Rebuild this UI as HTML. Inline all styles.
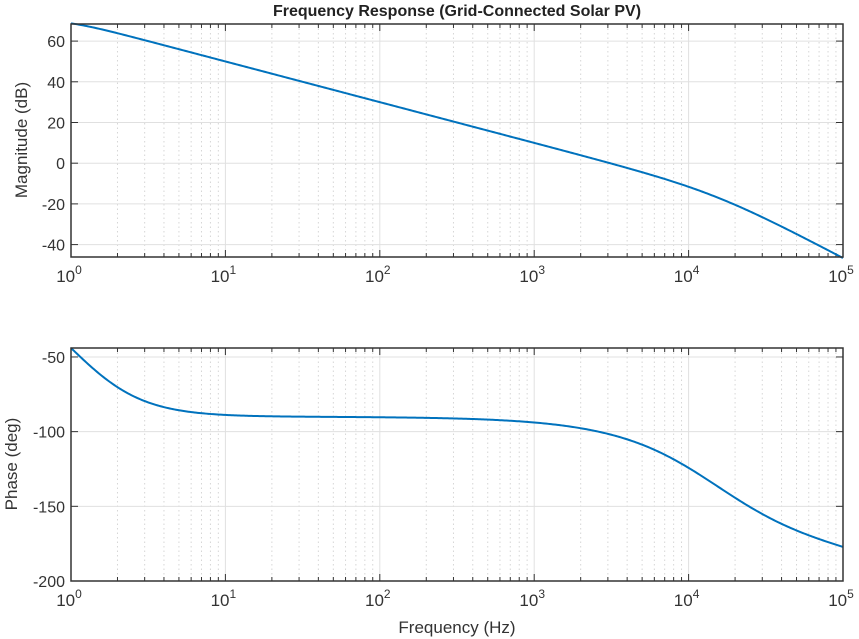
<!DOCTYPE html>
<html><head><meta charset="utf-8"><style>
html,body{margin:0;padding:0;background:#fff;}
svg{display:block;font-family:"Liberation Sans",Arial,sans-serif;}
</style></head><body>
<svg id="s" width="859" height="639" viewBox="0 0 859 639" xmlns="http://www.w3.org/2000/svg">
<rect width="859" height="639" fill="#fff"/>
<text x="457" y="16" text-anchor="middle" font-size="16" font-weight="bold" fill="#222">Frequency Response (Grid-Connected Solar PV)</text>
<g id="g"></g>
<text x="457" y="633" text-anchor="middle" font-size="17" fill="#333">Frequency (Hz)</text>
<text transform="translate(27,140) rotate(-90)" text-anchor="middle" font-size="17" fill="#333">Magnitude (dB)</text>
<text transform="translate(17,464) rotate(-90)" text-anchor="middle" font-size="17" fill="#333">Phase (deg)</text>
</svg>
<script>
var NS="http://www.w3.org/2000/svg",g=document.getElementById('g');
function el(t,a,txt){var e=document.createElementNS(NS,t);for(var k in a)e.setAttribute(k,a[k]);if(txt!=null)e.textContent=txt;g.appendChild(e);return e;}
var L=71,R=843,W=R-L;
function X(lf){return L+W*lf/5;}
function mag(lf){var f=Math.pow(10,lf);return 70-5*Math.log10(Math.pow(f,4)+0.8)-10*Math.log10(1+Math.pow(f/15000,2))-10*Math.log10(1+Math.pow(f/1e6,2));}
function ph(lf){var f=Math.pow(10,lf);var D=180/Math.PI;
 return -90+46*2/(1+Math.exp(4.3*lf))-Math.atan(f/15000)*D-Math.atan(f/1e6)*D;}
function axes(T,B,ymin,ymax,ticks,fn){
 var Y=function(v){return B-(v-ymin)/(ymax-ymin)*(B-T);};
 for(var d=0;d<5;d++)for(var k=2;k<10;k++){var x=X(d+Math.log10(k));
  el('line',{x1:x,x2:x,y1:T,y2:B,stroke:'#d6d6d6','stroke-width':1,'stroke-dasharray':'1.5,3'});
  el('line',{x1:x,x2:x,y1:B,y2:B-4,stroke:'#333'});el('line',{x1:x,x2:x,y1:T,y2:T+4,stroke:'#333'});}
 for(var d=0;d<=5;d++){var x=X(d);
  el('line',{x1:x,x2:x,y1:T,y2:B,stroke:'#e0e0e0'});
  el('line',{x1:x,x2:x,y1:B,y2:B-7,stroke:'#333'});el('line',{x1:x,x2:x,y1:T,y2:T+7,stroke:'#333'});
  var t=el('text',{x:x-2,y:B+25,'text-anchor':'middle','font-size':17,fill:'#333'});
  t.innerHTML='10<tspan dy="-8" font-size="12">'+d+'</tspan>';}
 ticks.forEach(function(v){var y=Y(v);
  el('line',{x1:L,x2:R,y1:y,y2:y,stroke:'#e0e0e0'});
  el('line',{x1:L,x2:L+7,y1:y,y2:y,stroke:'#333'});el('line',{x1:R,x2:R-7,y1:y,y2:y,stroke:'#333'});
  el('text',{x:L-6,y:y+6,'text-anchor':'end','font-size':16,fill:'#333'},v);});
 var d='';for(var i=0;i<=500;i++){var lf=5*i/500;d+=(i?'L':'M')+X(lf).toFixed(2)+','+Y(fn(lf)).toFixed(2);}
 el('path',{d:d,fill:'none',stroke:'#0072BD','stroke-width':2});
 el('rect',{x:L,y:T,width:W,height:B-T,fill:'none',stroke:'#333','stroke-width':1.5});}
axes(24,257,-46.1,68.4,[60,40,20,0,-20,-40],mag);
axes(348,581,-200,-44,[-50,-100,-150,-200],ph);
</script>
</body></html>
